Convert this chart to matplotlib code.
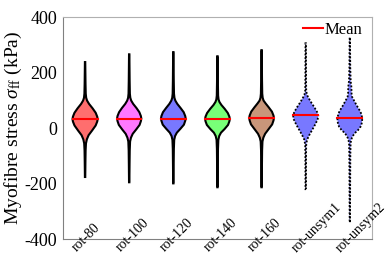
import matplotlib
matplotlib.use("Agg")
import matplotlib.pyplot as plt
from matplotlib.lines import Line2D

plt.rcParams["font.family"] = ["Liberation Serif", "DejaVu Serif"]
plt.rcParams["mathtext.fontset"] = "custom"
plt.rcParams["mathtext.rm"] = "Liberation Serif"
plt.rcParams["mathtext.it"] = "Liberation Serif:italic"
plt.rcParams["axes.unicode_minus"] = False

# groups and their mean stress (kPa)
labels = ["rot-80", "rot-100", "rot-120", "rot-140", "rot-160", "rot-unsym1", "rot-unsym2"]
means = [35, 35, 35, 33, 37, 47, 36]
colors = ["#FF6E6E", "#FF78FF", "#7878FF", "#78FF78", "#C8967A", "#7878FF", "#7878FF"]
styles = ["-", "-", "-", "-", "-", (0, (1, 1)), (0, (1, 1))]

# violin outlines: stress nodes and half widths
profile_y = [
    [-176, -120, -80, -55, -40, -25, -8, 10, 24, 33, 42, 56, 72, 88, 100, 110, 125, 160, 239],
    [-195, -130, -80, -48, -34, -20, -4, 12, 26, 35, 44, 58, 73, 88, 100, 110, 125, 170, 267],
    [-199, -130, -75, -42, -28, -16, -2, 13, 27, 35, 44, 58, 73, 88, 100, 110, 125, 170, 275],
    [-213, -140, -75, -42, -28, -16, -3, 12, 25, 33, 42, 55, 70, 84, 95, 104, 118, 165, 260],
    [-213, -140, -80, -48, -34, -20, -3, 14, 28, 37, 46, 60, 75, 90, 100, 110, 125, 175, 282],
    [-220, -100, -60, -42, -25, -5, 15, 32, 45, 58, 75, 92, 108, 120, 135, 180, 307],
    [-339, -200, -100, -55, -42, -30, -18, -6, 6, 18, 30, 36, 45, 54, 64, 72, 84, 96,
     106, 114, 125, 150, 170, 220, 328],
]
profile_w = [
    [0.004, 0.008, 0.012, 0.02, 0.04, 0.08, 0.16, 0.24, 0.275, 0.285, 0.275, 0.24, 0.17, 0.09, 0.045, 0.025, 0.015, 0.01, 0.004],
    [0.004, 0.008, 0.012, 0.02, 0.04, 0.08, 0.16, 0.235, 0.265, 0.275, 0.265, 0.23, 0.165, 0.09, 0.045, 0.025, 0.015, 0.01, 0.004],
    [0.004, 0.008, 0.012, 0.02, 0.04, 0.08, 0.16, 0.24, 0.27, 0.28, 0.27, 0.235, 0.165, 0.09, 0.045, 0.025, 0.015, 0.01, 0.004],
    [0.004, 0.008, 0.012, 0.02, 0.04, 0.08, 0.16, 0.24, 0.27, 0.28, 0.27, 0.235, 0.165, 0.09, 0.045, 0.025, 0.015, 0.01, 0.004],
    [0.004, 0.008, 0.012, 0.02, 0.04, 0.08, 0.16, 0.24, 0.27, 0.28, 0.27, 0.235, 0.165, 0.09, 0.045, 0.025, 0.015, 0.01, 0.004],
    [0.005, 0.008, 0.012, 0.03, 0.08, 0.15, 0.22, 0.27, 0.285, 0.26, 0.2, 0.13, 0.07, 0.03, 0.012, 0.008, 0.005],
    [0.004, 0.008, 0.012, 0.018, 0.03, 0.06, 0.11, 0.19, 0.245, 0.27, 0.28, 0.28, 0.27, 0.255, 0.225,
     0.195, 0.15, 0.11, 0.075, 0.05, 0.04, 0.035, 0.02, 0.01, 0.004],
]

fig = plt.figure(figsize=(3.89, 2.65), dpi=100)
ax = fig.add_axes([0.162, 0.098, 0.794, 0.836])

for i, (ys, ws) in enumerate(zip(profile_y, profile_w)):
    pos = i + 1
    xs = [pos + w for w in ws] + [pos - w for w in ws[::-1]]
    yy = list(ys) + list(ys[::-1])
    ax.fill(xs, yy, facecolor=colors[i], edgecolor="black",
            linewidth=1.5 if styles[i] == "-" else 1.3,
            linestyle=styles[i], zorder=2)
    half = max(ws)
    ax.plot([pos - half, pos + half], [means[i], means[i]], color="red", lw=1.5, zorder=3)
    ax.text(pos - 0.36, -456, labels[i], rotation=45, ha="left", va="bottom",
            fontsize=10, clip_on=False)

ax.set_xlim(0.5, 7.5)
ax.set_ylim(-400, 400)
ax.set_xticks([])
ax.set_yticks([-400, -200, 0, 200, 400])
ax.tick_params(axis="y", length=0, labelsize=13, pad=4)
ax.set_ylabel(r"Myofibre stress $\sigma_{\rm ff}$ (kPa)", fontsize=14)
ax.yaxis.set_label_coords(-0.125, 0.5)
for side in ["left", "bottom"]:
    ax.spines[side].set_color("#808080")
for side in ["top", "right"]:
    ax.spines[side].set_color("#b0b0b0")
for sp in ax.spines.values():
    sp.set_linewidth(0.8)

handle = Line2D([], [], color="red", lw=1.5)
ax.legend([handle], ["Mean"], loc="upper right", frameon=False, fontsize=12,
          handlelength=1.2, handletextpad=0.1, borderaxespad=0.0,
          bbox_to_anchor=(0.99, 1.01))

fig.savefig("out.png", dpi=100)
